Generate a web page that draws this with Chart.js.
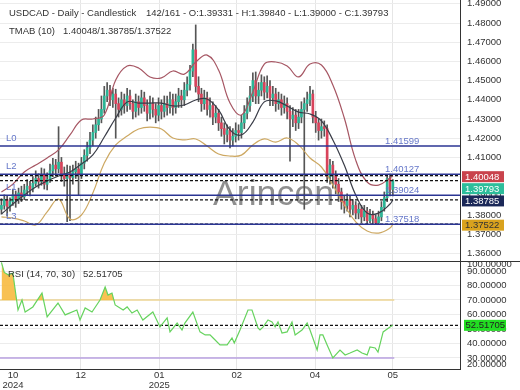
<!DOCTYPE html>
<html>
<head>
<meta charset="utf-8">
<script src="https://cdn.jsdelivr.net/npm/chart.js@4"></script>
<style>
  body { margin: 0; background: #fff; }
  #wrap { position: relative; width: 520px; height: 390px; }
  #price { position: absolute; left: 0; top: 0; }
  #rsi { position: absolute; left: 0; top: 261px; }
</style>
</head>
<body>
<div id="wrap">
  <canvas id="price" width="520" height="261"></canvas>
  <canvas id="rsi" width="520" height="129"></canvas>
</div>
<script>
// daily USDCAD candles, index 0..137
const opens = [1.3830,1.3850,1.3880,1.3845,1.3870,1.3905,1.3880,1.3915,1.3895,1.3930,
  1.3950,1.3935,1.3965,1.3990,1.3975,1.4010,1.3960,1.3985,1.4030,1.4060,
  1.4040,1.4075,1.4010,1.3990,1.4020,1.3995,1.4025,1.4040,1.4015,1.4070,
  1.4110,1.4150,1.4190,1.4230,1.4270,1.4300,1.4350,1.4420,1.4450,1.4400,
  1.4430,1.4380,1.4350,1.4400,1.4370,1.4420,1.4380,1.4340,1.4390,1.4360,
  1.4410,1.4370,1.4330,1.4380,1.4350,1.4320,1.4370,1.4340,1.4380,1.4360,
  1.4400,1.4360,1.4390,1.4420,1.4400,1.4450,1.4480,1.4550,1.4660,1.4470,
  1.4430,1.4380,1.4410,1.4350,1.4370,1.4310,1.4330,1.4280,1.4250,1.4220,
  1.4240,1.4190,1.4210,1.4240,1.4230,1.4280,1.4330,1.4370,1.4420,1.4500,
  1.4420,1.4450,1.4490,1.4440,1.4470,1.4410,1.4430,1.4380,1.4400,1.4360,
  1.4380,1.4340,1.4300,1.4320,1.4280,1.4310,1.4350,1.4380,1.4400,1.4430,
  1.4310,1.4280,1.4240,1.4260,1.4250,1.4000,1.4060,1.4010,1.3960,1.3920,
  1.3870,1.3850,1.3880,1.3830,1.3850,1.3810,1.3830,1.3790,1.3820,1.3770,
  1.3800,1.3780,1.3760,1.3790,1.3840,1.3890,1.3990,1.39331];
const highs = [1.3885,1.3905,1.3900,1.3890,1.3935,1.3925,1.3940,1.3950,1.3960,1.3985,
  1.3975,1.4000,1.4030,1.4015,1.4045,1.4040,1.4020,1.4065,1.4095,1.4090,
  1.4260,1.4100,1.4050,1.4060,1.4055,1.4060,1.4080,1.4070,1.4100,1.4140,
  1.4180,1.4230,1.4270,1.4310,1.4350,1.4420,1.4470,1.4490,1.4475,1.4460,
  1.4455,1.4410,1.4440,1.4430,1.4460,1.4450,1.4400,1.4430,1.4420,1.4450,
  1.4440,1.4400,1.4420,1.4410,1.4380,1.4410,1.4400,1.4420,1.4420,1.4440,
  1.4430,1.4430,1.4460,1.4450,1.4490,1.4520,1.4580,1.4690,1.4790,1.4520,
  1.4460,1.4450,1.4440,1.4410,1.4390,1.4370,1.4350,1.4310,1.4280,1.4270,
  1.4260,1.4250,1.4280,1.4270,1.4320,1.4370,1.4410,1.4470,1.4540,1.4545,
  1.4490,1.4530,1.4520,1.4525,1.4500,1.4470,1.4460,1.4440,1.4430,1.4420,
  1.4410,1.4370,1.4360,1.4350,1.4350,1.4390,1.4410,1.4440,1.4470,1.4450,
  1.4340,1.4300,1.4300,1.4290,1.4270,1.4090,1.4080,1.4030,1.3990,1.3940,
  1.3900,1.3910,1.3900,1.3880,1.3870,1.3860,1.3850,1.3850,1.3840,1.3830,
  1.3820,1.3800,1.3820,1.3870,1.3920,1.4005,1.40127,1.39840];
const lows = [1.3805,1.3830,1.3795,1.3820,1.3850,1.3840,1.3860,1.3870,1.3880,1.3905,
  1.3900,1.3920,1.3950,1.3940,1.3955,1.3935,1.3930,1.3970,1.4000,1.4010,
  1.4020,1.3975,1.3950,1.3765,1.3770,1.3960,1.3990,1.3905,1.3990,1.4040,
  1.4080,1.4120,1.4160,1.4200,1.4240,1.4280,1.4330,1.4390,1.4370,1.4360,
  1.4200,1.4310,1.4320,1.4330,1.4340,1.4350,1.4300,1.4310,1.4320,1.4330,
  1.4340,1.4290,1.4300,1.4310,1.4280,1.4290,1.4300,1.4310,1.4320,1.4330,
  1.4320,1.4330,1.4360,1.4360,1.4370,1.4420,1.4450,1.4520,1.4440,1.4390,
  1.4340,1.4350,1.4320,1.4310,1.4270,1.4280,1.4240,1.4210,1.4170,1.4180,
  1.4150,1.4160,1.4180,1.4190,1.4200,1.4250,1.4300,1.4340,1.4390,1.4380,
  1.4380,1.4420,1.4400,1.4410,1.4370,1.4370,1.4340,1.4350,1.4320,1.4330,
  1.4300,1.4080,1.4260,1.4240,1.4250,1.4280,1.3830,1.4340,1.4370,1.4280,
  1.4230,1.4190,1.4200,1.4210,1.3970,1.3960,1.3940,1.3910,1.3870,1.3830,
  1.3810,1.3820,1.3790,1.3800,1.3780,1.3780,1.3760,1.3770,1.3755,1.3760,
  1.3755,1.3752,1.3755,1.3770,1.3820,1.3870,1.3900,1.3900];
const closes = [1.3850,1.3880,1.3845,1.3870,1.3905,1.3880,1.3915,1.3895,1.3930,1.3950,
  1.3935,1.3965,1.3990,1.3975,1.4010,1.3960,1.3985,1.4030,1.4060,1.4040,
  1.4075,1.4010,1.3990,1.4020,1.3995,1.4025,1.4040,1.4015,1.4070,1.4110,
  1.4150,1.4190,1.4230,1.4270,1.4300,1.4350,1.4420,1.4450,1.4400,1.4430,
  1.4380,1.4350,1.4400,1.4370,1.4420,1.4380,1.4340,1.4390,1.4360,1.4410,
  1.4370,1.4330,1.4380,1.4350,1.4320,1.4370,1.4340,1.4380,1.4360,1.4400,
  1.4360,1.4390,1.4420,1.4400,1.4450,1.4480,1.4550,1.4660,1.4470,1.4430,
  1.4380,1.4410,1.4350,1.4370,1.4310,1.4330,1.4280,1.4250,1.4220,1.4240,
  1.4190,1.4210,1.4240,1.4230,1.4280,1.4330,1.4370,1.4420,1.4500,1.4420,
  1.4450,1.4490,1.4440,1.4470,1.4410,1.4430,1.4380,1.4400,1.4360,1.4380,
  1.4340,1.4300,1.4320,1.4280,1.4310,1.4350,1.4380,1.4400,1.4430,1.4310,
  1.4280,1.4240,1.4260,1.4250,1.4000,1.4060,1.4010,1.3960,1.3920,1.3870,
  1.3850,1.3880,1.3830,1.3850,1.3810,1.3830,1.3790,1.3820,1.3770,1.3800,
  1.3780,1.3760,1.3790,1.3840,1.3890,1.3990,1.3933,1.39793];

// TMAB(10) bands, sampled every 4 bars
const bandIdx = [0,4,8,12,16,20,24,28,32,36,40,44,48,52,56,60,64,68,72,76,80,84,88,92,96,100,104,108,112,116,120,124,128,132,136,137];
const upperBand = [1.3920,1.3961,1.4024,1.4060,1.4097,1.4139,1.4217,1.4295,1.4300,1.4321,1.4503,1.4576,1.4566,1.4519,1.4514,1.4550,1.4534,1.4597,1.4633,1.4555,1.4383,1.4321,1.4441,1.4586,1.4597,1.4576,1.4519,1.4586,1.4581,1.4477,1.4305,1.4086,1.3972,1.3956,1.3993,1.40048];
const midBand = [1.3805,1.3857,1.3904,1.3946,1.3977,1.4003,1.4024,1.4066,1.4113,1.4206,1.4305,1.4389,1.4383,1.4383,1.4383,1.4368,1.4373,1.4399,1.4404,1.4347,1.4243,1.4217,1.4284,1.4389,1.4394,1.4368,1.4336,1.4326,1.4290,1.4191,1.4060,1.3904,1.3810,1.3810,1.3857,1.38785];
const lowerBand = [1.3790,1.3784,1.3769,1.3748,1.3816,1.3883,1.3779,1.3800,1.3915,1.4071,1.4165,1.4211,1.4248,1.4258,1.4248,1.4201,1.4191,1.4196,1.4159,1.4118,1.4107,1.4112,1.4165,1.4196,1.4180,1.4201,1.4165,1.4097,1.4050,1.3956,1.3852,1.3764,1.3717,1.3706,1.3732,1.37522];

// RSI(14)
const rsiIdx = [0,1,2.5,4,5.8,7.2,8.3,11,14.2,16,19.8,22.3,26.4,27.5,29.3,31.7,34.5,36.3,37.3,38.7,
  39.8,42.6,44,45.7,47.5,49.5,53,55.5,58,59,61.5,63.2,64.2,67,69.5,71.3,73,74.1,76.5,79,
  80.7,81.5,83.5,86.3,87.7,89.8,90.5,91.6,93.3,94.7,95.8,96.8,98.2,100,101.7,102.8,105.2,107,108,110.5,
  111.5,112.5,114,116,118.5,120.3,122,124.5,126.2,128,129,130.8,131.8,133.6,136,137];
const rsiVal = [96,89,87.2,88.6,63.1,70,61.7,65.2,74.8,58.3,67.9,59.7,63.1,56.2,64.5,61.7,70,79,73.4,74.8,
  66.6,63.1,65.2,61,63.1,56.2,61.7,51.4,57.6,48,54.1,49.3,54.1,61.7,48,45.9,45.9,43.8,39,39,
  43.8,40.3,49.3,63.1,63.1,50.7,49.3,51.4,56.2,54.8,51.4,54.8,47.2,48,54.8,45.9,49.3,54.1,49.3,35.5,
  45.9,45.9,39,30,35.5,32.1,33.4,35.5,33.4,32.1,37.6,36.9,34.1,48,51.4,52.51705];
const rsiOver = 70, rsiUnder = 30;

// horizontal levels
const levelNames = ['L0', 'L2', 'L1', 'L3'];
const levelValues = [1.41599, 1.40127, 1.39024, 1.37518];

// axis ticks
const priceTicks = [1.36,1.37,1.38,1.39,1.40,1.41,1.42,1.43,1.44,1.45,1.46,1.47,1.48,1.49];
const xTickPos = [4.05, 27.75, 55.25, 82.35, 109.75, 136.95];
const xTickLabels = [['10','2024'], '12', ['01','2025'], '02', '04', '05'];
const rsiTickPos = [25.5, 30, 40, 50, 60, 70, 80, 90, 94.8];
const rsiTickText = ['20.00000','30.00000','40.00000','50.00000','60.00000','70.00000','80.00000','90.00000','100.00000'];

const FONT = '"Liberation Sans", Arial, sans-serif';
Chart.defaults.font.family = FONT;
Chart.defaults.font.size = 9.5;
Chart.defaults.color = '#333';

const xMin = -0.5, xMax = 160.5;
const last = closes.length - 1;
const markerValues = [upperBand[upperBand.length - 1], closes[last], midBand[midBand.length - 1], lowerBand[lowerBand.length - 1]];
const markerBg = ['#c9434c', '#2dbd9b', '#1b2858', '#d9a21e'];
const markerFg = ['#fff', '#fff', '#fff', '#333'];

const gridX = ctx => ctx.index === 0 ? 'rgba(0,0,0,0)' : '#e6e6e6';
const hline = (v, x0, x1) => [{ x: x0, y: v }, { x: x1, y: v }];

const pricePlugin = {
    id: 'priceExtras',
    beforeDatasetsDraw(chart) {
        const ctx = chart.ctx;
        ctx.save();
        ctx.font = '35.7px ' + FONT;
        ctx.fillStyle = 'rgba(115,115,115,0.8)';
        ctx.textBaseline = 'alphabetic';
        ctx.fillText('Arincen', 213, 205);
        ctx.restore();
    },
    afterDatasetsDraw(chart) {
        const ctx = chart.ctx, ys = chart.scales.y;
        ctx.save();
        ctx.font = '9.5px ' + FONT;
        ctx.fillStyle = '#6577c9';
        levelValues.forEach((v, k) => {
            const y = ys.getPixelForValue(v);
            ctx.fillText(levelNames[k], 6, y - 5);
            ctx.fillText(v.toFixed(5), 385, y - 2);
        });
        ctx.restore();
    },
    afterDraw(chart) {
        const ctx = chart.ctx, ys = chart.scales.y;
        ctx.save();
        ctx.font = '9.5px ' + FONT;
        ctx.fillStyle = '#333';
        ctx.fillText('USDCAD - Daily - Candlestick', 9, 16);
        ctx.fillText(`${last + 5}/161 - O:${opens[last].toFixed(5)} - H:${highs[last].toFixed(5)} - L:${lows[last].toFixed(5)} - C:${closes[last].toFixed(5)}`, 146, 16);
        ctx.fillText('TMAB (10)', 9, 33.5);
        ctx.fillText([markerValues[0], markerValues[2], markerValues[3]].map(v => v.toFixed(5)).join('/'), 63, 33.5);

        ctx.textBaseline = 'middle';
        let prev = -Infinity;
        markerValues.forEach((v, k) => {
            const y = Math.max(ys.getPixelForValue(v) + 1, prev + 12);
            prev = y;
            ctx.fillStyle = markerBg[k];
            ctx.fillRect(462, y - 5.5, 42, 11);
            ctx.fillStyle = markerFg[k];
            ctx.fillText(v.toFixed(5), 465, y + 0.5);
        });
        ctx.restore();
    }
};

new Chart(document.getElementById('price'), {
    type: 'bar',
    data: {
        datasets: [
            ...levelValues.map(v => ({
                type: 'line', data: hline(v, xMin, xMax), borderColor: '#2b3593',
                borderWidth: 1.5, pointRadius: 0, order: 0
            })),
            ...markerValues.map(v => ({
                type: 'line', data: hline(v, xMin, xMax), borderColor: '#111',
                borderWidth: 1.2, borderDash: [3, 2], pointRadius: 0, order: 0
            })),
            { type: 'line', data: bandIdx.map((x, i) => ({ x, y: upperBand[i] })), borderColor: '#a65663', borderWidth: 1.2, pointRadius: 0, tension: 0.4, order: 1 },
            { type: 'line', data: bandIdx.map((x, i) => ({ x, y: midBand[i] })), borderColor: '#3a3d48', borderWidth: 1.2, pointRadius: 0, tension: 0.4, order: 1 },
            { type: 'line', data: bandIdx.map((x, i) => ({ x, y: lowerBand[i] })), borderColor: '#cda862', borderWidth: 1.2, pointRadius: 0, tension: 0.4, order: 1 },
            {
                data: closes.map((c, i) => ({ x: i, y: [opens[i], c] })),
                backgroundColor: closes.map((c, i) => c >= opens[i] ? '#2bb596' : '#d8435b'),
                barThickness: 2, grouped: false, minBarLength: 1, order: 4
            },
            {
                data: highs.map((h, i) => ({ x: i, y: [lows[i], h] })),
                backgroundColor: '#555', barThickness: 1, grouped: false, order: 5
            }
        ]
    },
    options: {
        responsive: false,
        animation: false,
        layout: { padding: 0 },
        plugins: { legend: { display: false }, tooltip: { enabled: false } },
        scales: {
            x: {
                type: 'linear', min: xMin, max: xMax, offset: false,
                grid: { offset: false, color: gridX, drawTicks: false },
                border: { display: false },
                ticks: { display: false },
                afterBuildTicks: s => { s.ticks = xTickPos.map(v => ({ value: v })); },
                afterFit: s => { s.height = 0; s.paddingLeft = 0; s.paddingRight = 0; }
            },
            y: {
                position: 'right', min: 1.35604, max: 1.49198,
                grid: { color: '#ececec', drawTicks: false },
                border: { color: '#333' },
                ticks: { autoSkip: false, padding: 7, color: '#333', callback: v => v.toFixed(5) },
                afterBuildTicks: s => { s.ticks = priceTicks.map(v => ({ value: v })); },
                afterFit: s => { s.width = 60; s.paddingTop = 0; s.paddingBottom = 0; }
            }
        }
    },
    plugins: [pricePlugin]
});

const rsiPlugin = {
    id: 'rsiExtras',
    afterDraw(chart) {
        const ctx = chart.ctx, ys = chart.scales.y;
        const cur = rsiVal[rsiVal.length - 1];
        ctx.save();
        ctx.fillStyle = '#333';
        ctx.fillRect(0, 0, 520, 1);
        ctx.font = '9.5px ' + FONT;
        ctx.fillText('RSI (14, 70, 30)', 8, 16);
        ctx.fillText(cur.toFixed(5), 83, 16);
        const y = ys.getPixelForValue(cur);
        ctx.fillStyle = '#22dd22';
        ctx.fillRect(464, y - 5.5, 42, 11);
        ctx.fillStyle = '#222';
        ctx.textBaseline = 'middle';
        ctx.fillText(cur.toFixed(5), 465.5, y + 0.5);
        ctx.restore();
    }
};

new Chart(document.getElementById('rsi'), {
    type: 'line',
    data: {
        datasets: [
            {
                data: rsiIdx.map((x, i) => ({ x, y: rsiVal[i] })),
                borderColor: '#66d35e', borderWidth: 1.2, pointRadius: 0,
                fill: { target: { value: rsiOver }, above: 'rgba(247,186,64,0.9)', below: 'rgba(0,0,0,0)' },
                order: 0
            },
            { data: hline(rsiOver, xMin, last + 0.5), borderColor: '#ecd493', borderWidth: 1.5, pointRadius: 0, order: 2 },
            { data: hline(rsiUnder, xMin, last + 0.5), borderColor: '#b9a0e0', borderWidth: 1.5, pointRadius: 0, order: 2 },
            { data: hline(rsiVal[rsiVal.length - 1], xMin, xMax), borderColor: '#111', borderWidth: 1.2, borderDash: [3, 2], pointRadius: 0, order: 1 }
        ]
    },
    options: {
        responsive: false,
        animation: false,
        layout: { padding: 0 },
        plugins: { legend: { display: false }, tooltip: { enabled: false } },
        scales: {
            x: {
                type: 'linear', min: xMin, max: xMax, offset: false,
                grid: { color: gridX, drawTicks: false },
                border: { color: '#333' },
                ticks: {
                    autoSkip: false, maxRotation: 0, padding: 2, color: '#333',
                    font: { size: 9.5, lineHeight: 1 },
                    callback: (v, i) => xTickLabels[i]
                },
                afterBuildTicks: s => { s.ticks = xTickPos.map(v => ({ value: v })); },
                afterFit: s => { s.height = 21; s.paddingLeft = 0; s.paddingRight = 0; }
            },
            y: {
                position: 'right', min: 22.4, max: 96.9,
                grid: { color: ctx => (ctx.index === 0 || ctx.index === rsiTickPos.length - 1) ? 'rgba(0,0,0,0)' : '#ececec', drawTicks: false },
                border: { color: '#333' },
                ticks: { autoSkip: false, padding: 7, color: '#333', callback: (v, i) => rsiTickText[i] },
                afterBuildTicks: s => { s.ticks = rsiTickPos.map(v => ({ value: v })); },
                afterFit: s => { s.width = 60; s.paddingTop = 0; s.paddingBottom = 0; }
            }
        }
    },
    plugins: [rsiPlugin]
});
</script>
</body>
</html>
